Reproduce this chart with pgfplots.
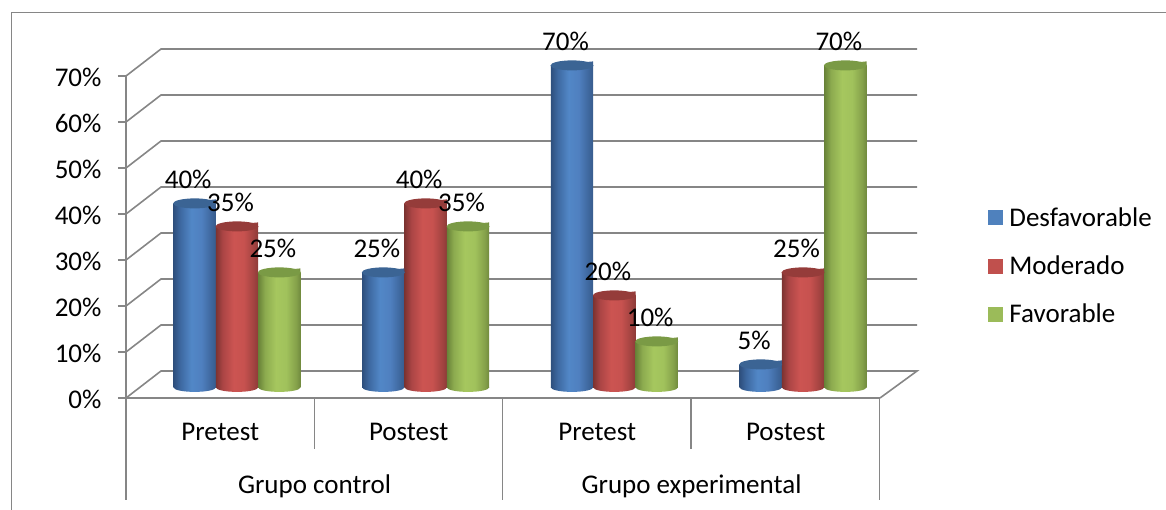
\documentclass[border=0pt]{standalone}
\usepackage{pgfplots}
\usepackage{fontspec}
\setmainfont{Carlito}
\pgfplotsset{compat=1.18}

\definecolor{gridc}{HTML}{868686}
\definecolor{capblue}{HTML}{3B6494}
\definecolor{capred}{HTML}{953C3A}
\definecolor{capgreen}{HTML}{7A9A45}
\definecolor{legblue}{HTML}{4F81BD}
\definecolor{legred}{HTML}{C0504D}
\definecolor{leggreen}{HTML}{9BBB59}

% cylinder body shadings, dark edges and a light strip in the middle
\pgfdeclarehorizontalshading{cylblue}{100bp}{rgb(0bp)=(0.18,0.31,0.49);rgb(25bp)=(0.18,0.31,0.49);rgb(33bp)=(0.24,0.41,0.63);rgb(46bp)=(0.32,0.53,0.78);rgb(58bp)=(0.31,0.50,0.75);rgb(70bp)=(0.24,0.40,0.61);rgb(75bp)=(0.22,0.36,0.55);rgb(100bp)=(0.22,0.36,0.55)}
\pgfdeclarehorizontalshading{cylred}{100bp}{rgb(0bp)=(0.49,0.20,0.19);rgb(25bp)=(0.49,0.20,0.19);rgb(33bp)=(0.67,0.27,0.27);rgb(46bp)=(0.80,0.33,0.32);rgb(58bp)=(0.78,0.32,0.31);rgb(70bp)=(0.63,0.26,0.25);rgb(75bp)=(0.55,0.23,0.22);rgb(100bp)=(0.55,0.23,0.22)}
\pgfdeclarehorizontalshading{cylgreen}{100bp}{rgb(0bp)=(0.41,0.51,0.22);rgb(25bp)=(0.41,0.51,0.22);rgb(33bp)=(0.55,0.67,0.31);rgb(46bp)=(0.65,0.78,0.37);rgb(58bp)=(0.63,0.76,0.36);rgb(70bp)=(0.52,0.63,0.29);rgb(75bp)=(0.44,0.54,0.24);rgb(100bp)=(0.44,0.54,0.24)}

\newcommand\cylmarks[2]{%
  \pgfdeclareplotmark{top#1}{%
    \path[draw=none,shade,shading=cyl#1] (-21.15pt,-1pt) -- (-21.15pt,0pt) -- (21.15pt,4pt) -- (21.15pt,-1pt) -- cycle;
    \path[draw=none,fill=#2,shift={(0pt,2.4pt)},rotate=7] (0pt,0pt) ellipse (21.5pt and 5pt);
  }%
  \pgfdeclareplotmark{base#1}{%
    \path[draw=none,shade,shading=cyl#1,shift={(0pt,1.8pt)},rotate=4] (0pt,0pt) ellipse (21.15pt and 4.5pt);
  }%
}
\cylmarks{blue}{capblue}
\cylmarks{red}{capred}
\cylmarks{green}{capgreen}

\newcommand\lab{\fontsize{27}{27}\selectfont}

% one cylinder per plot: a shade on a whole series would span all its bars
\newcommand\cyl[3]{%
  \addplot[only marks,mark=base#1,forget plot] coordinates {(#2,0)};
  \addplot[ybar,bar width=42.3pt,bar shift=0pt,draw=none,shade,shading=cyl#1,forget plot,
    nodes near coords={\pgfmathprintnumber{\pgfplotspointmeta}\%},point meta=y,
    every node near coord/.append style={anchor=center,xshift=-6.5pt,yshift=24.4pt,inner sep=0pt,
      font=\lab,text=black}] coordinates {(#2,#3)};
  \addplot[only marks,mark=top#1,forget plot] coordinates {(#2,#3)};
}

\begin{document}
\begin{tikzpicture}[x=1pt,y=1pt]
\path[use as bounding box] (0,0) rectangle (1166,510);

% frame, walls, floor and category separators, in image pixels
\begin{axis}[at={(0pt,0pt)},anchor=south west,scale only axis,width=1166pt,height=510pt,
    xmin=0,xmax=1166,ymin=0,ymax=510,y dir=reverse,hide axis,clip=false]
  \addplot[gridc,line width=1.2pt] coordinates {(11.5,510)(11.5,12.5)(1166,12.5)};
  \addplot[gridc,line width=1.6pt] coordinates {(126,76)(161,49)(917,49)};
  \addplot[gridc,line width=1.6pt] coordinates {(126,122)(161,95)(917,95)};
  \addplot[gridc,line width=1.6pt] coordinates {(126,168)(161,141)(917,141)};
  \addplot[gridc,line width=1.6pt] coordinates {(126,214)(161,187)(917,187)};
  \addplot[gridc,line width=1.6pt] coordinates {(126,260)(161,233)(917,233)};
  \addplot[gridc,line width=1.6pt] coordinates {(126,306)(161,279)(917,279)};
  \addplot[gridc,line width=1.6pt] coordinates {(126,352)(161,325)(917,325)};
  \addplot[gridc,line width=1.6pt] coordinates {(126,398)(161,371)(917,371)(880,398)};
  \addplot[gridc,line width=1.6pt] coordinates {(126,398)(126,500)};
  \addplot[gridc,line width=1.6pt] coordinates {(314.5,398)(314.5,449)};
  \addplot[gridc,line width=1.6pt] coordinates {(502.5,398)(502.5,500)};
  \addplot[gridc,line width=1.6pt] coordinates {(691,398)(691,449)};
  \addplot[gridc,line width=1.6pt] coordinates {(879.5,398)(879.5,500)};
\end{axis}

% value axis and category labels
\begin{axis}[at={(126pt,112pt)},anchor=south west,scale only axis,width=754pt,height=322pt,
    xmin=0,xmax=4,ymin=0,ymax=70,clip=false,
    axis x line=bottom,axis y line=left,axis line style={-,gridc,line width=1.6pt},
    ytick={0,10,...,70},yticklabel={\pgfmathprintnumber{\tick}\%},
    /pgf/number format/assume math mode=true,
    ytick style={gridc,line width=1.6pt},tick align=outside,major tick length=8pt,
    yticklabel style={font=\lab,xshift=-13pt,yshift=-1pt},
    xtick={0.5,1.5,2.5,3.5},xticklabels={Pretest,Postest,Pretest,Postest},
    xtick style={draw=none},
    xticklabel style={font=\lab,anchor=center,yshift=-26pt}]
  \addplot[draw=none,forget plot] coordinates {(0,0)(4,70)};
  \node[font=\lab] at (axis cs:1,-19.2) {Grupo control};
  \node[font=\lab] at (axis cs:3,-19.2) {Grupo experimental};
\end{axis}

% cylinders and legend
\begin{axis}[at={(126pt,122.6pt)},anchor=south west,scale only axis,width=791pt,height=339.4pt,
    xmin=-0.5883,xmax=3.604,ymin=0,ymax=73.783,hide axis,clip=false,
    /pgf/number format/assume math mode=true,
    legend style={at={(1.09,0.53)},anchor=north west,draw=none,fill=none,
      font=\lab,row sep=28pt,inner sep=0pt,nodes={inner sep=0pt}},
    legend cell align=left,
    legend image code/.code={\path[fill=#1,draw=none] (0pt,-7.5pt) rectangle (15pt,7.5pt);
      \path[draw=none] (0pt,0pt) -- (21pt,0pt);}]
  \cyl{blue}{-0.2244}{40}
  \cyl{blue}{0.7756}{25}
  \cyl{blue}{1.7756}{70}
  \cyl{blue}{2.7756}{5}
  \cyl{red}{0}{35}
  \cyl{red}{1}{40}
  \cyl{red}{2}{20}
  \cyl{red}{3}{25}
  \cyl{green}{0.2244}{25}
  \cyl{green}{1.2244}{35}
  \cyl{green}{2.2244}{10}
  \cyl{green}{3.2244}{70}
  \addlegendimage{legblue}
  \addlegendentry{Desfavorable}
  \addlegendimage{legred}
  \addlegendentry{Moderado}
  \addlegendimage{leggreen}
  \addlegendentry{Favorable}
\end{axis}
\end{tikzpicture}
\end{document}
